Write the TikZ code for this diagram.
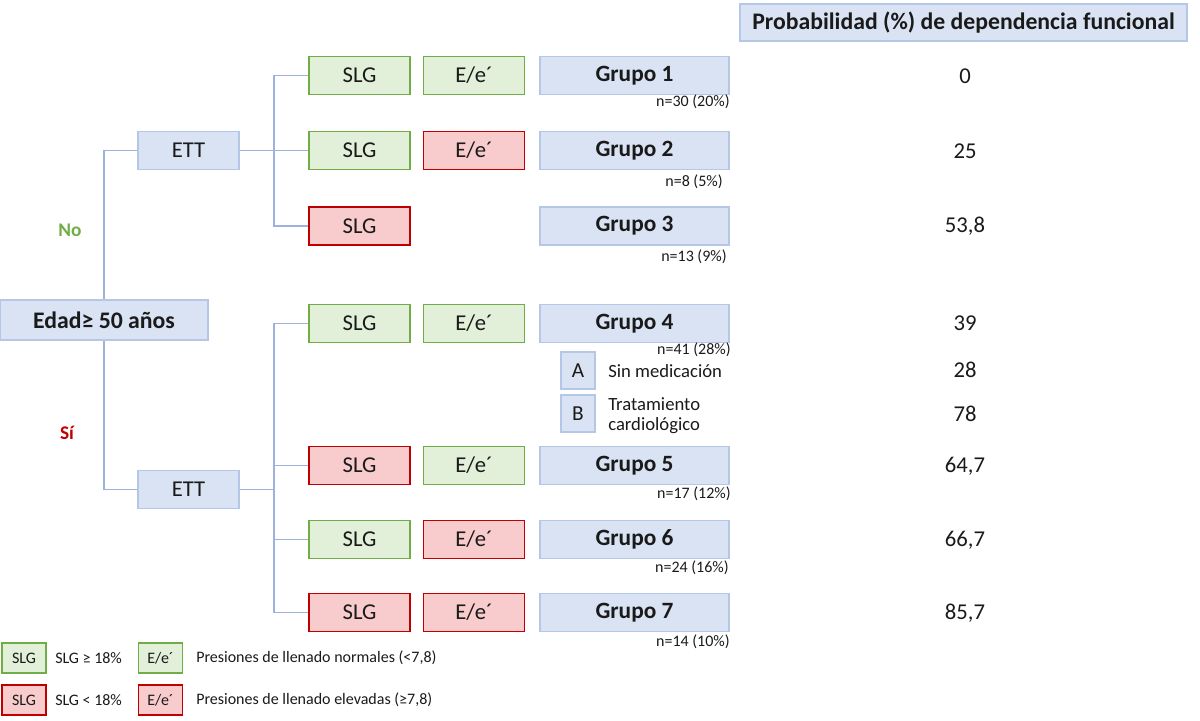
\documentclass[tikz,border=0pt]{standalone}
\usepackage{fontspec}
\setmainfont{Carlito}
\definecolor{gfill}{HTML}{E2EFD9}
\definecolor{gdraw}{HTML}{70AD47}
\definecolor{rfill}{HTML}{F8CBCD}
\definecolor{rdraw}{HTML}{C00000}
\definecolor{bfill}{HTML}{DAE3F3}
\definecolor{bdraw}{HTML}{B4C7E7}
\definecolor{lcol}{HTML}{9DB3DE}
\definecolor{txt}{HTML}{1A1A1A}
\tikzset{
  base/.style={rectangle, inner sep=0pt, line width=0.9pt, text=txt},
  gbox/.style={base, fill=gfill, draw=gdraw, minimum width=75.75pt, minimum height=28.5pt, font=\fontsize{17}{20}\selectfont},
  rbox/.style={base, fill=rfill, draw=rdraw, minimum width=75.75pt, minimum height=28.5pt, font=\fontsize{17}{20}\selectfont},
  ettbox/.style={base, fill=bfill, draw=bdraw, minimum width=75.75pt, minimum height=28.5pt, font=\fontsize{17}{20}\selectfont},
  grbox/.style={base, fill=bfill, draw=bdraw, minimum width=141.75pt, minimum height=28.5pt, font=\fontsize{17.5}{20}\selectfont\bfseries},
  abbox/.style={base, fill=bfill, draw=bdraw, minimum width=25.5pt, minimum height=27.75pt, font=\fontsize{16}{19}\selectfont},
  nlab/.style={anchor=east, inner sep=0pt, text=txt, font=\fontsize{12}{14}\selectfont},
  prob/.style={inner sep=0pt, text=txt, font=\fontsize{17}{20}\selectfont},
  small/.style={inner sep=0pt, text=txt, font=\fontsize{14}{16}\selectfont, anchor=west, align=left},
  lgg/.style={base, fill=gfill, draw=gdraw, minimum width=33pt, minimum height=22.5pt, font=\fontsize{12}{14}\selectfont},
  lgr/.style={base, fill=rfill, draw=rdraw, minimum width=33pt, minimum height=22.5pt, font=\fontsize{12}{14}\selectfont},
  lgt/.style={inner sep=0pt, anchor=west, text=txt, font=\fontsize{12}{14}\selectfont},
  conn/.style={draw=lcol, line width=0.8pt}
}
\begin{document}
\begin{tikzpicture}[x=0.75pt, y=-0.75pt]
\useasboundingbox (0,0) rectangle (1200,721);
% header
\node[base, fill=bfill, draw=bdraw, minimum width=335.25pt, minimum height=27.75pt, font=\fontsize{17.8}{20}\selectfont\bfseries] (hdr) at (963.5,22.5) {Probabilidad (\%) de dependencia funcional};
% root
\node[base, fill=bfill, draw=bdraw, minimum width=156pt, minimum height=30pt, font=\fontsize{17.8}{20}\selectfont\bfseries] (edad) at (104,320) {Edad≥ 50 años};
\node[ettbox] (ett1) at (188.5,150.5) {ETT};
\node[ettbox] (ett2) at (188.5,489.5) {ETT};
\node[inner sep=0pt, text=gdraw, font=\fontsize{14.5}{16}\selectfont\bfseries] (no) at (70,230) {No};
\node[inner sep=0pt, text=rdraw, font=\fontsize{14.5}{16}\selectfont\bfseries] (si) at (67,433) {Sí};
% rows
\node[gbox] (s1) at (359.5,75.5) {SLG};
\node[gbox] (e1) at (474,75.5) {E/e´};
\node[grbox] (g1) at (634.5,75.5) {Grupo 1};
\node[gbox] (s2) at (359.5,150.5) {SLG};
\node[rbox] (e2) at (474,150.5) {E/e´};
\node[grbox] (g2) at (634.5,150.5) {Grupo 2};
\node[rbox] (s3) at (359.5,226) {SLG};
\node[grbox] (g3) at (634.5,226) {Grupo 3};
\node[gbox] (s4) at (359.5,323.5) {SLG};
\node[gbox] (e4) at (474,323.5) {E/e´};
\node[grbox] (g4) at (634.5,323.5) {Grupo 4};
\node[rbox] (s5) at (359.5,465.5) {SLG};
\node[gbox] (e5) at (474,465.5) {E/e´};
\node[grbox] (g5) at (634.5,465.5) {Grupo 5};
\node[gbox] (s6) at (359.5,539.5) {SLG};
\node[rbox] (e6) at (474,539.5) {E/e´};
\node[grbox] (g6) at (634.5,539.5) {Grupo 6};
\node[rbox] (s7) at (359.5,612.5) {SLG};
\node[rbox] (e7) at (474,612.5) {E/e´};
\node[grbox] (g7) at (634.5,612.5) {Grupo 7};
% n labels
\node[nlab] (n1) at (730,102) {n=30 (20\%)};
\node[nlab] (n2) at (723,182) {n=8 (5\%)};
\node[nlab] (n3) at (727,257) {n=13 (9\%)};
\node[nlab] (n4) at (731,350) {n=41 (28\%)};
\node[nlab] (n5) at (731,494) {n=17 (12\%)};
\node[nlab] (n6) at (729,568) {n=24 (16\%)};
\node[nlab] (n7) at (730,642) {n=14 (10\%)};
% A/B
\node[abbox] (a) at (578,370.5) {A};
\node[abbox] (b) at (578,413.5) {B};
\node[small] (at) at (608,371) {Sin medicación};
\node[small] (bt) at (608,416) {Tratamiento\\[-1pt]cardiológico};
% probabilities
\node[prob] (p1) at (965,76) {0};
\node[prob] (p2) at (965,151) {25};
\node[prob] (p3) at (965,226.5) {53,8};
\node[prob] (p4) at (965,323) {39};
\node[prob] (pa) at (965,369.5) {28};
\node[prob] (pb) at (965,414) {78};
\node[prob] (p5) at (965,466.5) {64,7};
\node[prob] (p6) at (965,540) {66,7};
\node[prob] (p7) at (965,613) {85,7};
% connectors
\coordinate (j1) at (274,150.5);
\coordinate (j2) at (274,489.5);
\draw[conn] (ett1.west) -| (edad.north);
\draw[conn] (ett2.west) -| (edad.south);
\draw[conn] (ett1.east) -- (s2.west);
\draw[conn] (s1.west) -| (j1) |- (s3.west);
\draw[conn] (ett2.east) -- (j2);
\draw[conn] (s4.west) -| (j2) |- (s7.west);
\draw[conn] (j2) |- (s5.west);
\draw[conn] (j2) |- (s6.west);
% legend
\node[lgg] (l1) at (24,658) {SLG};
\node[lgt] (l1t) at (55,658) {SLG ≥ 18\%};
\node[lgg] (l2) at (160.5,658) {E/e´};
\node[lgt] (l2t) at (196,658) {Presiones de llenado normales (<7,8)};
\node[lgr] (l3) at (24,700) {SLG};
\node[lgt] (l3t) at (55,700) {SLG < 18\%};
\node[lgr] (l4) at (160.5,700) {E/e´};
\node[lgt] (l4t) at (196,700) {Presiones de llenado elevadas (≥7,8)};
\end{tikzpicture}
\end{document}
